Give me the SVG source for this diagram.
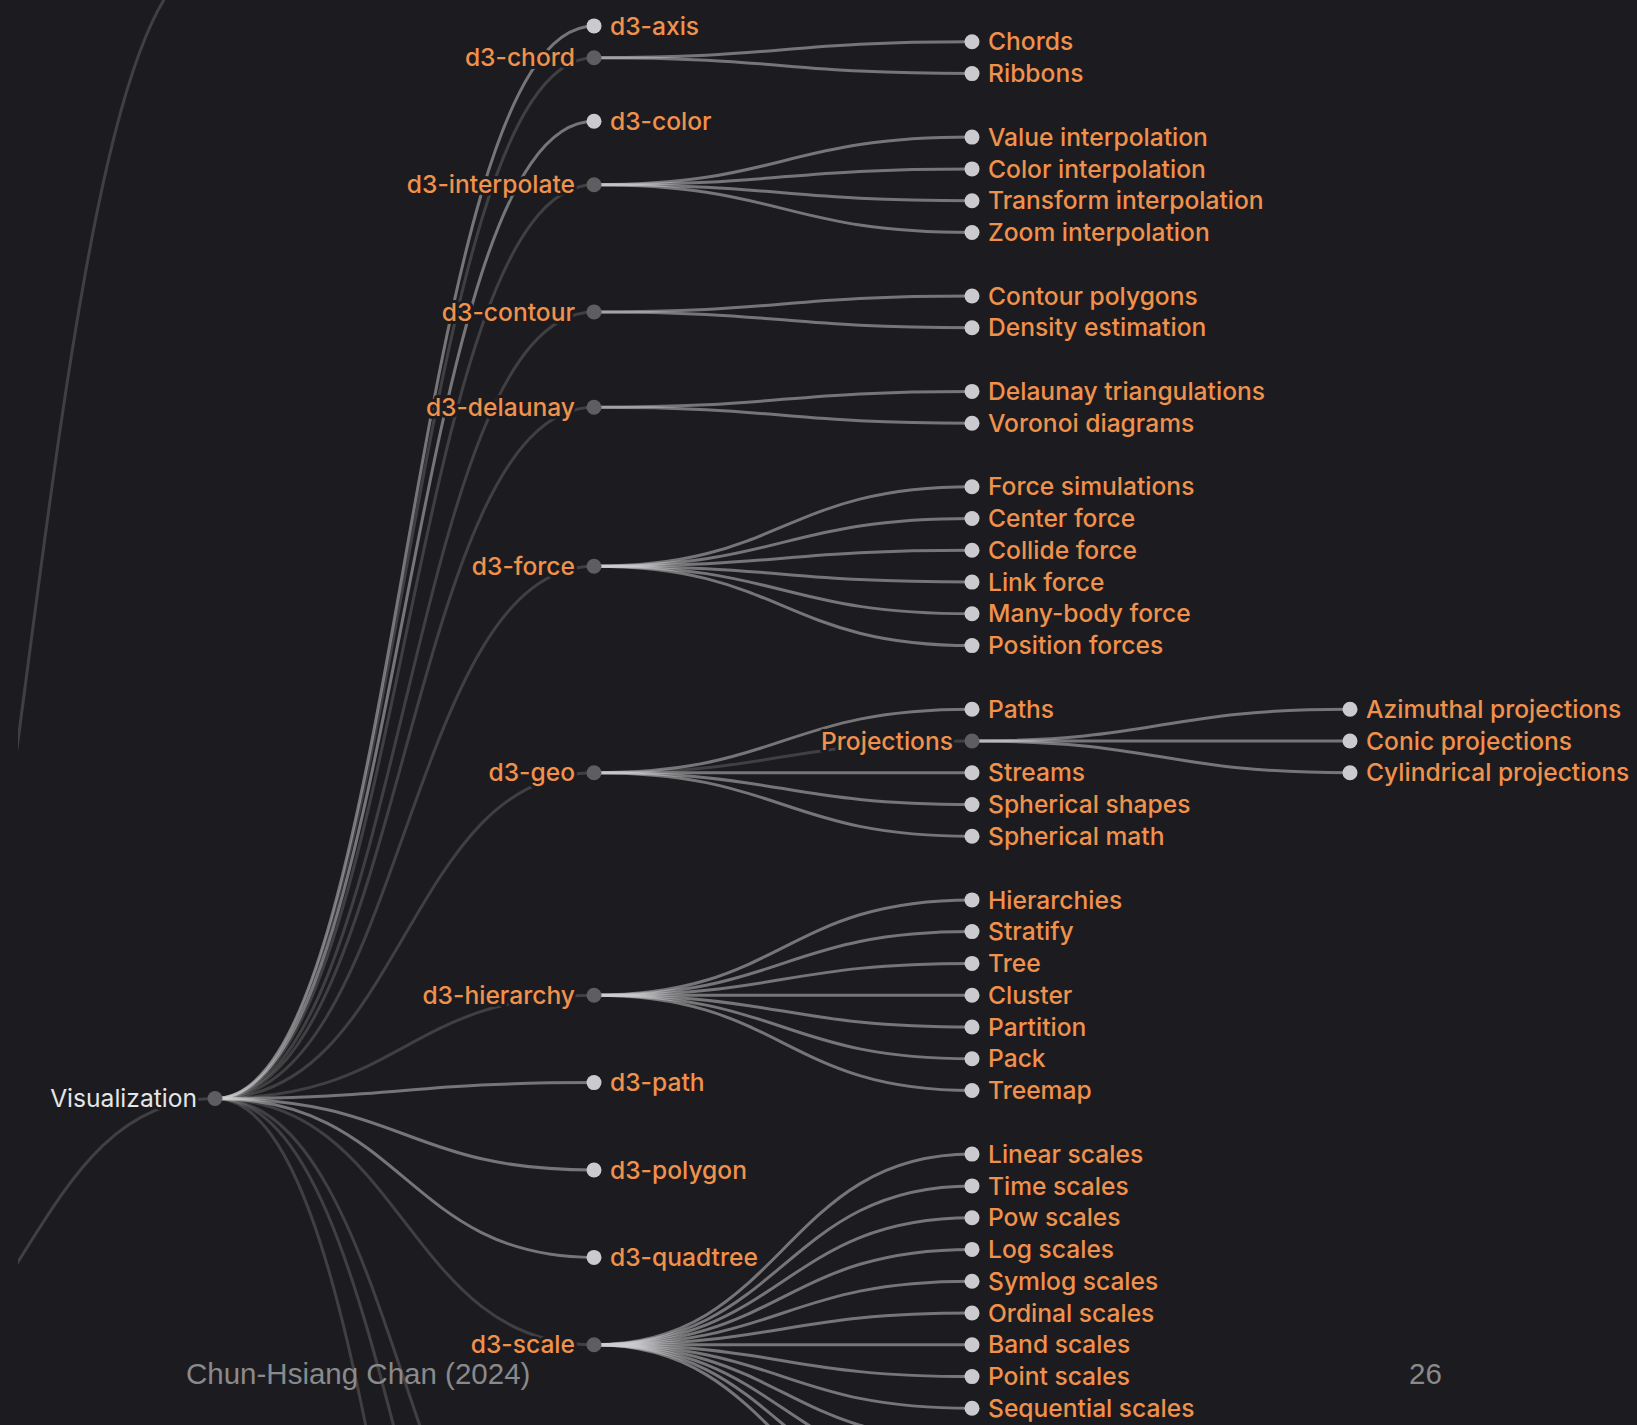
<svg xmlns="http://www.w3.org/2000/svg" width="1637" height="1425" viewBox="0 0 1637 1425">
<style>
.bg{fill:#1c1c20}
.lk{fill:none;stroke:#d0d0d2;stroke-opacity:0.5;stroke-width:3}
.li{fill:none;stroke:#d0d0d2;stroke-opacity:0.2;stroke-width:3}
.ni{fill:#5e5e61}
.nl{fill:#cbcbcd}
text{font-family:Inter,"Noto Sans","Liberation Sans",sans-serif;font-size:24.6px;font-weight:500;paint-order:stroke;stroke:#1c1c20;stroke-width:6px;stroke-linejoin:round}
.t{fill:#f0914c}
.s{text-anchor:end}
.root{fill:#e6e6e6;font-weight:400}
.foot{font-family:"Liberation Sans",Arial,sans-serif;font-size:29.5px;font-weight:400;fill:#8a8a8c;stroke:none}
</style>
<defs>
<clipPath id="clip"><rect x="18" y="0" width="1619" height="1425"/></clipPath>
</defs>
<rect class="bg" x="0" y="0" width="1637" height="1425"/>
<g id="connectors" clip-path="url(#clip)">
<path class="li" d="M-163,1400C26,1400 26,-40 215,-40"/>
<path class="li" d="M-163,1400C26,1400 26,1098.5 215,1098.5"/>
<path class="lk" d="M215,1098.5C404.5,1098.5 404.5,25.9 594,25.9"/>
<path class="li" d="M215,1098.5C404.5,1098.5 404.5,57.7 594,57.7"/>
<path class="lk" d="M215,1098.5C404.5,1098.5 404.5,121.3 594,121.3"/>
<path class="li" d="M215,1098.5C404.5,1098.5 404.5,184.8 594,184.8"/>
<path class="li" d="M215,1098.5C404.5,1098.5 404.5,311.9 594,311.9"/>
<path class="li" d="M215,1098.5C404.5,1098.5 404.5,407.3 594,407.3"/>
<path class="li" d="M215,1098.5C404.5,1098.5 404.5,566.2 594,566.2"/>
<path class="li" d="M215,1098.5C404.5,1098.5 404.5,772.7 594,772.7"/>
<path class="li" d="M215,1098.5C404.5,1098.5 404.5,995.2 594,995.2"/>
<path class="lk" d="M215,1098.5C404.5,1098.5 404.5,1082.6 594,1082.6"/>
<path class="lk" d="M215,1098.5C404.5,1098.5 404.5,1170 594,1170"/>
<path class="lk" d="M215,1098.5C404.5,1098.5 404.5,1257.4 594,1257.4"/>
<path class="li" d="M215,1098.5C404.5,1098.5 404.5,1344.8 594,1344.8"/>
<path class="li" d="M215,1098.5C404.5,1098.5 404.5,1662.6 594,1662.6"/>
<path class="li" d="M215,1098.5C404.5,1098.5 404.5,1837.4 594,1837.4"/>
<path class="li" d="M215,1098.5C404.5,1098.5 404.5,2171.1 594,2171.1"/>
<path class="lk" d="M594,57.7C783,57.7 783,41.8 972,41.8"/>
<path class="lk" d="M594,57.7C783,57.7 783,73.6 972,73.6"/>
<path class="lk" d="M594,184.8C783,184.8 783,137.1 972,137.1"/>
<path class="lk" d="M594,184.8C783,184.8 783,168.9 972,168.9"/>
<path class="lk" d="M594,184.8C783,184.8 783,200.7 972,200.7"/>
<path class="lk" d="M594,184.8C783,184.8 783,232.5 972,232.5"/>
<path class="lk" d="M594,311.9C783,311.9 783,296 972,296"/>
<path class="lk" d="M594,311.9C783,311.9 783,327.8 972,327.8"/>
<path class="lk" d="M594,407.3C783,407.3 783,391.4 972,391.4"/>
<path class="lk" d="M594,407.3C783,407.3 783,423.2 972,423.2"/>
<path class="lk" d="M594,566.2C783,566.2 783,486.7 972,486.7"/>
<path class="lk" d="M594,566.2C783,566.2 783,518.5 972,518.5"/>
<path class="lk" d="M594,566.2C783,566.2 783,550.3 972,550.3"/>
<path class="lk" d="M594,566.2C783,566.2 783,582.1 972,582.1"/>
<path class="lk" d="M594,566.2C783,566.2 783,613.8 972,613.8"/>
<path class="lk" d="M594,566.2C783,566.2 783,645.6 972,645.6"/>
<path class="lk" d="M594,772.7C783,772.7 783,709.2 972,709.2"/>
<path class="li" d="M594,772.7C783,772.7 783,741 972,741"/>
<path class="lk" d="M594,772.7C783,772.7 783,772.7 972,772.7"/>
<path class="lk" d="M594,772.7C783,772.7 783,804.5 972,804.5"/>
<path class="lk" d="M594,772.7C783,772.7 783,836.3 972,836.3"/>
<path class="lk" d="M972,741C1161,741 1161,709.2 1350,709.2"/>
<path class="lk" d="M972,741C1161,741 1161,741 1350,741"/>
<path class="lk" d="M972,741C1161,741 1161,772.7 1350,772.7"/>
<path class="lk" d="M594,995.2C783,995.2 783,899.9 972,899.9"/>
<path class="lk" d="M594,995.2C783,995.2 783,931.6 972,931.6"/>
<path class="lk" d="M594,995.2C783,995.2 783,963.4 972,963.4"/>
<path class="lk" d="M594,995.2C783,995.2 783,995.2 972,995.2"/>
<path class="lk" d="M594,995.2C783,995.2 783,1027 972,1027"/>
<path class="lk" d="M594,995.2C783,995.2 783,1058.8 972,1058.8"/>
<path class="lk" d="M594,995.2C783,995.2 783,1090.5 972,1090.5"/>
<path class="lk" d="M594,1344.8C783,1344.8 783,1154.1 972,1154.1"/>
<path class="lk" d="M594,1344.8C783,1344.8 783,1185.9 972,1185.9"/>
<path class="lk" d="M594,1344.8C783,1344.8 783,1217.7 972,1217.7"/>
<path class="lk" d="M594,1344.8C783,1344.8 783,1249.4 972,1249.4"/>
<path class="lk" d="M594,1344.8C783,1344.8 783,1281.2 972,1281.2"/>
<path class="lk" d="M594,1344.8C783,1344.8 783,1313 972,1313"/>
<path class="lk" d="M594,1344.8C783,1344.8 783,1344.8 972,1344.8"/>
<path class="lk" d="M594,1344.8C783,1344.8 783,1376.6 972,1376.6"/>
<path class="lk" d="M594,1344.8C783,1344.8 783,1408.3 972,1408.3"/>
<path class="lk" d="M594,1344.8C783,1344.8 783,1440.1 972,1440.1"/>
<path class="lk" d="M594,1344.8C783,1344.8 783,1471.9 972,1471.9"/>
<path class="lk" d="M594,1344.8C783,1344.8 783,1503.7 972,1503.7"/>
<path class="lk" d="M594,1344.8C783,1344.8 783,1535.5 972,1535.5"/>
</g>
<g id="node-visualization"><circle class="ni" cx="215" cy="1098.5" r="7.5"/><text class="root s" x="197" y="1098.5" dy="0.35em">Visualization</text></g>
<g id="node-d3-axis"><circle class="nl" cx="594" cy="25.9" r="7.5"/><text class="t" x="610" y="25.9" dy="0.35em">d3-axis</text></g>
<g id="node-d3-chord"><circle class="ni" cx="594" cy="57.7" r="7.5"/><text class="t s" x="575" y="57.7" dy="0.35em">d3-chord</text></g>
<g id="node-d3-color"><circle class="nl" cx="594" cy="121.3" r="7.5"/><text class="t" x="610" y="121.3" dy="0.35em">d3-color</text></g>
<g id="node-d3-interpolate"><circle class="ni" cx="594" cy="184.8" r="7.5"/><text class="t s" x="575" y="184.8" dy="0.35em">d3-interpolate</text></g>
<g id="node-d3-contour"><circle class="ni" cx="594" cy="311.9" r="7.5"/><text class="t s" x="575" y="311.9" dy="0.35em">d3-contour</text></g>
<g id="node-d3-delaunay"><circle class="ni" cx="594" cy="407.3" r="7.5"/><text class="t s" x="575" y="407.3" dy="0.35em">d3-delaunay</text></g>
<g id="node-d3-force"><circle class="ni" cx="594" cy="566.2" r="7.5"/><text class="t s" x="575" y="566.2" dy="0.35em">d3-force</text></g>
<g id="node-d3-geo"><circle class="ni" cx="594" cy="772.7" r="7.5"/><text class="t s" x="575" y="772.7" dy="0.35em">d3-geo</text></g>
<g id="node-d3-hierarchy"><circle class="ni" cx="594" cy="995.2" r="7.5"/><text class="t s" x="575" y="995.2" dy="0.35em">d3-hierarchy</text></g>
<g id="node-d3-path"><circle class="nl" cx="594" cy="1082.6" r="7.5"/><text class="t" x="610" y="1082.6" dy="0.35em">d3-path</text></g>
<g id="node-d3-polygon"><circle class="nl" cx="594" cy="1170" r="7.5"/><text class="t" x="610" y="1170" dy="0.35em">d3-polygon</text></g>
<g id="node-d3-quadtree"><circle class="nl" cx="594" cy="1257.4" r="7.5"/><text class="t" x="610" y="1257.4" dy="0.35em">d3-quadtree</text></g>
<g id="node-d3-scale"><circle class="ni" cx="594" cy="1344.8" r="7.5"/><text class="t s" x="575" y="1344.8" dy="0.35em">d3-scale</text></g>
<g id="node-chords"><circle class="nl" cx="972" cy="41.8" r="7.5"/><text class="t" x="988" y="41.8" dy="0.35em">Chords</text></g>
<g id="node-ribbons"><circle class="nl" cx="972" cy="73.6" r="7.5"/><text class="t" x="988" y="73.6" dy="0.35em">Ribbons</text></g>
<g id="node-value-interpolation"><circle class="nl" cx="972" cy="137.1" r="7.5"/><text class="t" x="988" y="137.1" dy="0.35em">Value interpolation</text></g>
<g id="node-color-interpolation"><circle class="nl" cx="972" cy="168.9" r="7.5"/><text class="t" x="988" y="168.9" dy="0.35em">Color interpolation</text></g>
<g id="node-transform-interpolation"><circle class="nl" cx="972" cy="200.7" r="7.5"/><text class="t" x="988" y="200.7" dy="0.35em">Transform interpolation</text></g>
<g id="node-zoom-interpolation"><circle class="nl" cx="972" cy="232.5" r="7.5"/><text class="t" x="988" y="232.5" dy="0.35em">Zoom interpolation</text></g>
<g id="node-contour-polygons"><circle class="nl" cx="972" cy="296" r="7.5"/><text class="t" x="988" y="296" dy="0.35em">Contour polygons</text></g>
<g id="node-density-estimation"><circle class="nl" cx="972" cy="327.8" r="7.5"/><text class="t" x="988" y="327.8" dy="0.35em">Density estimation</text></g>
<g id="node-delaunay-triangulations"><circle class="nl" cx="972" cy="391.4" r="7.5"/><text class="t" x="988" y="391.4" dy="0.35em">Delaunay triangulations</text></g>
<g id="node-voronoi-diagrams"><circle class="nl" cx="972" cy="423.2" r="7.5"/><text class="t" x="988" y="423.2" dy="0.35em">Voronoi diagrams</text></g>
<g id="node-force-simulations"><circle class="nl" cx="972" cy="486.7" r="7.5"/><text class="t" x="988" y="486.7" dy="0.35em">Force simulations</text></g>
<g id="node-center-force"><circle class="nl" cx="972" cy="518.5" r="7.5"/><text class="t" x="988" y="518.5" dy="0.35em">Center force</text></g>
<g id="node-collide-force"><circle class="nl" cx="972" cy="550.3" r="7.5"/><text class="t" x="988" y="550.3" dy="0.35em">Collide force</text></g>
<g id="node-link-force"><circle class="nl" cx="972" cy="582.1" r="7.5"/><text class="t" x="988" y="582.1" dy="0.35em">Link force</text></g>
<g id="node-many-body-force"><circle class="nl" cx="972" cy="613.8" r="7.5"/><text class="t" x="988" y="613.8" dy="0.35em">Many-body force</text></g>
<g id="node-position-forces"><circle class="nl" cx="972" cy="645.6" r="7.5"/><text class="t" x="988" y="645.6" dy="0.35em">Position forces</text></g>
<g id="node-paths"><circle class="nl" cx="972" cy="709.2" r="7.5"/><text class="t" x="988" y="709.2" dy="0.35em">Paths</text></g>
<g id="node-projections"><circle class="ni" cx="972" cy="741" r="7.5"/><text class="t s" x="953" y="741" dy="0.35em">Projections</text></g>
<g id="node-streams"><circle class="nl" cx="972" cy="772.7" r="7.5"/><text class="t" x="988" y="772.7" dy="0.35em">Streams</text></g>
<g id="node-spherical-shapes"><circle class="nl" cx="972" cy="804.5" r="7.5"/><text class="t" x="988" y="804.5" dy="0.35em">Spherical shapes</text></g>
<g id="node-spherical-math"><circle class="nl" cx="972" cy="836.3" r="7.5"/><text class="t" x="988" y="836.3" dy="0.35em">Spherical math</text></g>
<g id="node-azimuthal-projections"><circle class="nl" cx="1350" cy="709.2" r="7.5"/><text class="t" x="1366" y="709.2" dy="0.35em">Azimuthal projections</text></g>
<g id="node-conic-projections"><circle class="nl" cx="1350" cy="741" r="7.5"/><text class="t" x="1366" y="741" dy="0.35em">Conic projections</text></g>
<g id="node-cylindrical-projections"><circle class="nl" cx="1350" cy="772.7" r="7.5"/><text class="t" x="1366" y="772.7" dy="0.35em">Cylindrical projections</text></g>
<g id="node-hierarchies"><circle class="nl" cx="972" cy="899.9" r="7.5"/><text class="t" x="988" y="899.9" dy="0.35em">Hierarchies</text></g>
<g id="node-stratify"><circle class="nl" cx="972" cy="931.6" r="7.5"/><text class="t" x="988" y="931.6" dy="0.35em">Stratify</text></g>
<g id="node-tree"><circle class="nl" cx="972" cy="963.4" r="7.5"/><text class="t" x="988" y="963.4" dy="0.35em">Tree</text></g>
<g id="node-cluster"><circle class="nl" cx="972" cy="995.2" r="7.5"/><text class="t" x="988" y="995.2" dy="0.35em">Cluster</text></g>
<g id="node-partition"><circle class="nl" cx="972" cy="1027" r="7.5"/><text class="t" x="988" y="1027" dy="0.35em">Partition</text></g>
<g id="node-pack"><circle class="nl" cx="972" cy="1058.8" r="7.5"/><text class="t" x="988" y="1058.8" dy="0.35em">Pack</text></g>
<g id="node-treemap"><circle class="nl" cx="972" cy="1090.5" r="7.5"/><text class="t" x="988" y="1090.5" dy="0.35em">Treemap</text></g>
<g id="node-linear-scales"><circle class="nl" cx="972" cy="1154.1" r="7.5"/><text class="t" x="988" y="1154.1" dy="0.35em">Linear scales</text></g>
<g id="node-time-scales"><circle class="nl" cx="972" cy="1185.9" r="7.5"/><text class="t" x="988" y="1185.9" dy="0.35em">Time scales</text></g>
<g id="node-pow-scales"><circle class="nl" cx="972" cy="1217.7" r="7.5"/><text class="t" x="988" y="1217.7" dy="0.35em">Pow scales</text></g>
<g id="node-log-scales"><circle class="nl" cx="972" cy="1249.4" r="7.5"/><text class="t" x="988" y="1249.4" dy="0.35em">Log scales</text></g>
<g id="node-symlog-scales"><circle class="nl" cx="972" cy="1281.2" r="7.5"/><text class="t" x="988" y="1281.2" dy="0.35em">Symlog scales</text></g>
<g id="node-ordinal-scales"><circle class="nl" cx="972" cy="1313" r="7.5"/><text class="t" x="988" y="1313" dy="0.35em">Ordinal scales</text></g>
<g id="node-band-scales"><circle class="nl" cx="972" cy="1344.8" r="7.5"/><text class="t" x="988" y="1344.8" dy="0.35em">Band scales</text></g>
<g id="node-point-scales"><circle class="nl" cx="972" cy="1376.6" r="7.5"/><text class="t" x="988" y="1376.6" dy="0.35em">Point scales</text></g>
<g id="node-sequential-scales"><circle class="nl" cx="972" cy="1408.3" r="7.5"/><text class="t" x="988" y="1408.3" dy="0.35em">Sequential scales</text></g>
<g id="footer">
<text class="foot" x="186" y="1384">Chun-Hsiang Chan (2024)</text>
<text class="foot" x="1409" y="1384">26</text>
</g>
</svg>
